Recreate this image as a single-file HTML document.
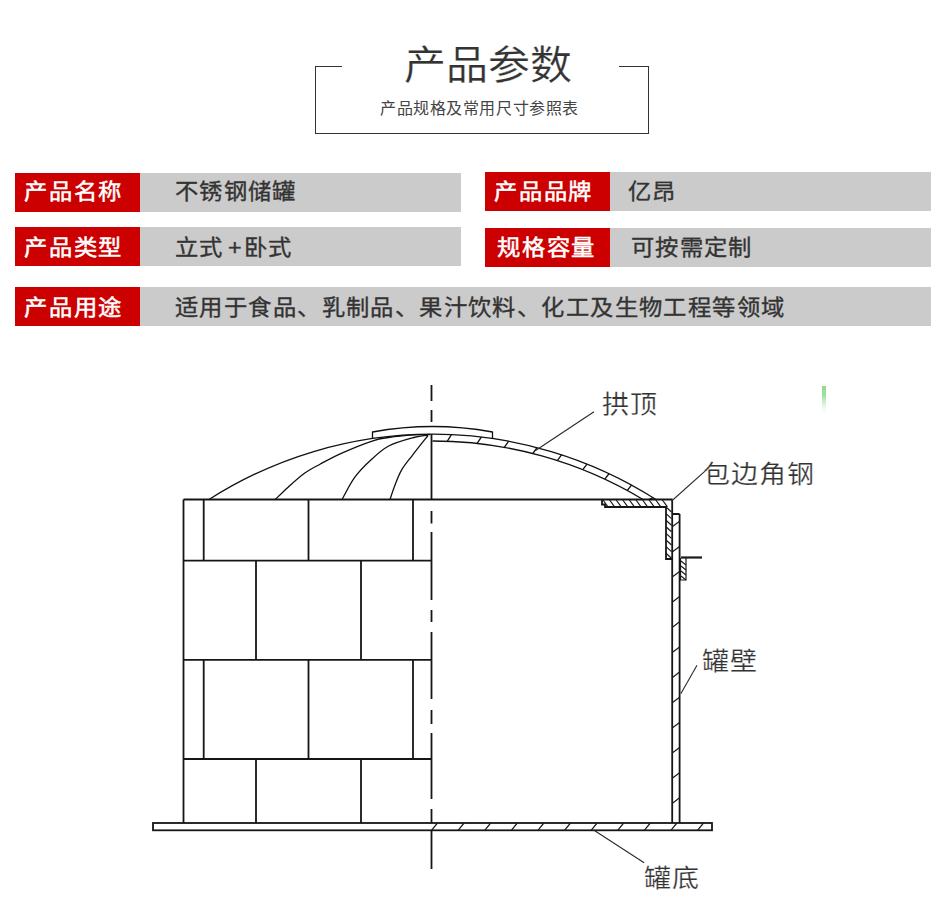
<!DOCTYPE html>
<html lang="zh-CN">
<head>
<meta charset="utf-8">
<style>
html,body{margin:0;padding:0;background:#fff;}
body{width:950px;height:908px;position:relative;overflow:hidden;font-family:"Liberation Sans",sans-serif;}
.a{position:absolute;}
.ln{position:absolute;background:#333;}
.t1{left:404px;top:41px;font-size:42px;line-height:52px;color:#333;white-space:nowrap;-webkit-text-stroke:0.25px #fff;transform:scaleY(0.94);transform-origin:0 0;}
.t2{left:380px;top:99px;font-size:16px;line-height:20px;color:#444;white-space:nowrap;letter-spacing:0.58px;transform:scaleY(0.97);transform-origin:0 0;}
.lab{position:absolute;height:39px;width:125px;background:#cc0000;color:#fff;-webkit-text-stroke:0.5px #fff;font-size:22px;line-height:39px;letter-spacing:1.4px;box-sizing:border-box;padding-left:9px;white-space:nowrap;}
.val{position:absolute;height:39px;background:#cbcbcb;color:#333;font-size:22px;line-height:39px;letter-spacing:0.95px;box-sizing:border-box;white-space:nowrap;-webkit-text-stroke:0.35px #333;}
.s{display:inline-block;transform:scaleX(1.06);transform-origin:0 50%;position:relative;}
.r1 .s{top:-1px}.r2 .s{top:1px}.r3 .s{top:1px}
.lbl{position:absolute;font-size:27px;line-height:30px;color:#333;white-space:nowrap;letter-spacing:0.8px;-webkit-text-stroke:0.25px #fff;transform:scaleY(0.94);transform-origin:0 0;}
</style>
</head>
<body>
<!-- header frame -->
<div class="ln" style="left:315px;top:66px;width:27px;height:1px"></div>
<div class="ln" style="left:619px;top:66px;width:30px;height:1px"></div>
<div class="ln" style="left:315px;top:66px;width:1px;height:68px"></div>
<div class="ln" style="left:648px;top:66px;width:1px;height:68px"></div>
<div class="ln" style="left:315px;top:133px;width:334px;height:1px"></div>
<div class="a t1">产品参数</div>
<div class="a t2">产品规格及常用尺寸参照表</div>

<!-- rows -->
<div class="lab r1" style="left:15px;top:173px"><span class="s">产品名称</span></div>
<div class="val r1" style="left:140px;top:173px;width:321px;padding-left:35px"><span class="s">不锈钢储罐</span></div>
<div class="lab" style="left:485px;top:172px"><span class="s">产品品牌</span></div>
<div class="val" style="left:610px;top:172px;width:321px;padding-left:18px"><span class="s">亿昂</span></div>

<div class="lab r2" style="left:15px;top:227px"><span class="s">产品类型</span></div>
<div class="val r2" style="left:140px;top:227px;width:321px;padding-left:35px"><span class="s">立式<span style="margin:0 1.5px 0 4px">+</span>卧式</span></div>
<div class="lab" style="left:485px;top:228px;padding-left:12px"><span class="s">规格容量</span></div>
<div class="val" style="left:610px;top:228px;width:321px;padding-left:21px"><span class="s">可按需定制</span></div>

<div class="lab r3" style="left:15px;top:287px"><span class="s">产品用途</span></div>
<div class="val r3" style="left:140px;top:287px;width:791px;padding-left:35px;letter-spacing:1.04px"><span class="s">适用于食品、乳制品、果汁饮料、化工及生物工程等领域</span></div>

<!-- diagram -->
<svg class="a" style="left:0;top:0" width="950" height="908" viewBox="0 0 950 908">
<g fill="none" stroke="#161616" stroke-width="1.8">
  <path d="M183.5 499.5V823M183.5 499.5H672.5"/>
  <path d="M183.5 560.7H431.5M183.5 659.8H431.5M183.5 759H431.5"/>
  <path d="M203.7 499.5V560.7M308.5 499.5V560.7M413 499.5V560.7"/>
  <path d="M256 560.7V659.8M361 560.7V659.8"/>
  <path d="M203.7 659.8V759M308.5 659.8V759M413 659.8V759"/>
  <path d="M256 759V823M361 759V823"/>
  <path d="M431.5 385V401M431.5 410V422M431.5 434V499.5M431.5 511V523.5M431.5 532V600M431.5 610V622M431.5 632V699M431.5 710V724M431.5 733V799M431.5 809V823M431.5 831V869"/>
  <rect x="153" y="823" width="559" height="7.3"/>
  <path d="M672.2 499.5V823M679.6 514V823M672.2 514H679.6"/>
  <path d="M602 499.5V504.5H605V507H666V559H672.2"/>
</g>
<g fill="none" stroke="#111" stroke-width="1.3" stroke-linejoin="round">
  <path d="M209 499.5A415 415 0 0 1 656 499.5"/>
  <path d="M432.5 441A408 408 0 0 1 643 499.5"/>
  <path d="M372.5 438.4V432Q432.5 421 492.5 432V438.4"/>
  <path d="M275.2 499.5C277.4 497.4 283.5 491.3 288.4 486.9C293.3 482.5 299.5 476.8 304.8 473.0C310.1 469.2 313.9 467.5 320.0 464.2C326.1 460.9 332.5 457.2 341.3 453.3C350.1 449.4 365.0 443.4 372.9 440.8C380.8 438.2 381.9 438.5 388.7 437.5C395.5 436.5 406.8 435.4 413.7 434.9C420.6 434.4 427.3 434.6 430.0 434.5"/>
  <path d="M342.0 499.5C344.1 495.9 349.8 484.1 354.5 477.6C359.2 471.1 364.6 465.8 370.3 460.5C376.0 455.2 381.5 449.8 388.7 446.0C395.9 442.2 407.1 439.3 413.7 437.5C420.2 435.7 425.6 435.4 428.0 435.0"/>
  <path d="M390.0 499.5C390.9 496.9 393.3 489.2 395.3 484.2C397.3 479.2 399.0 474.5 401.8 469.7C404.6 464.9 408.0 461.0 412.4 455.3C416.8 449.6 425.4 438.8 428.0 435.5"/>
  <path d="M447.2 441.3L451.6 434.4M477.1 443.4L481.5 436.9M504.3 447.4L508.7 441.1M532.8 453.5L537.2 447.4M557.3 460.6L561.7 454.6M582.8 469.7L587.2 463.9M604.8 479.2L609.2 473.5M627.3 490.5L631.7 484.9M648.8 499.5L653.2 497.6"/>
</g>
<g fill="none" stroke="#1a1a1a" stroke-width="1.2">
  <path d="M672.2 526.8L679.6 521.2M672.2 551.9L679.6 546.4M672.2 577.1L679.6 571.5M672.2 602.2L679.6 596.6M672.2 627.4L679.6 621.8M672.2 652.5L679.6 646.9M672.2 677.7L679.6 672.1M672.2 702.8L679.6 697.2M672.2 728.0L679.6 722.4M672.2 753.1L679.6 747.5M672.2 778.3L679.6 772.7M672.2 803.4L679.6 797.8"/>
  <path d="M431.5 830.3L437.5 823M458.1 830.3L464.1 823M484.7 830.3L490.7 823M511.3 830.3L517.3 823M537.9 830.3L543.9 823M564.5 830.3L570.5 823M591.1 830.3L597.1 823M617.7 830.3L623.7 823M644.3 830.3L650.3 823M670.9 830.3L676.9 823M697.5 830.3L703.5 823"/>
  <path d="M603.0 500L608.0 506.8M609.6 500L614.6 506.8M616.2 500L621.2 506.8M622.8 500L627.8 506.8M629.4 500L634.4 506.8M636.0 500L641.0 506.8M642.6 500L647.6 506.8M649.2 500L654.2 506.8M655.8 500L660.8 506.8M662.4 500L667.4 506.8"/>
  <path d="M666 507.0L671.5 512.0M666 513.6L671.5 518.6M666 520.2L671.5 525.2M666 526.8L671.5 531.8M666 533.4L671.5 538.4M666 540.0L671.5 545.0M666 546.6L671.5 551.6M666 553.2L671.5 558.2"/>
  <path d="M681 557.5H702" stroke-width="2.2"/>
  <path d="M680.5 558V580H686V558"/>
  <path d="M681 561L686 565M681 566L686 570M681 571L686 575M681 576L686 580"/>
</g>
<g fill="none" stroke="#2a2a2a" stroke-width="1.1">
  <path d="M535.2 450.7L594 411.7"/>
  <path d="M671.6 501L705.6 470.6"/>
  <path d="M680.8 693.7L697 665.3"/>
  <path d="M594 830.3L644.1 862.7"/>
</g>
<defs><linearGradient id="gg" x1="0" y1="0" x2="0" y2="1"><stop offset="0" stop-color="#8edb8e"/><stop offset="0.35" stop-color="#a5e3a5"/><stop offset="1" stop-color="#fff" stop-opacity="0"/></linearGradient></defs>
<rect x="822" y="386" width="4" height="31" fill="url(#gg)"/>
</svg>

<div class="lbl" style="left:602px;top:390px">拱顶</div>
<div class="lbl" style="left:702.5px;top:459.6px;letter-spacing:1.3px">包边角钢</div>
<div class="lbl" style="left:702px;top:646.5px">罐壁</div>
<div class="lbl" style="left:644px;top:863.7px">罐底</div>
</body>
</html>
